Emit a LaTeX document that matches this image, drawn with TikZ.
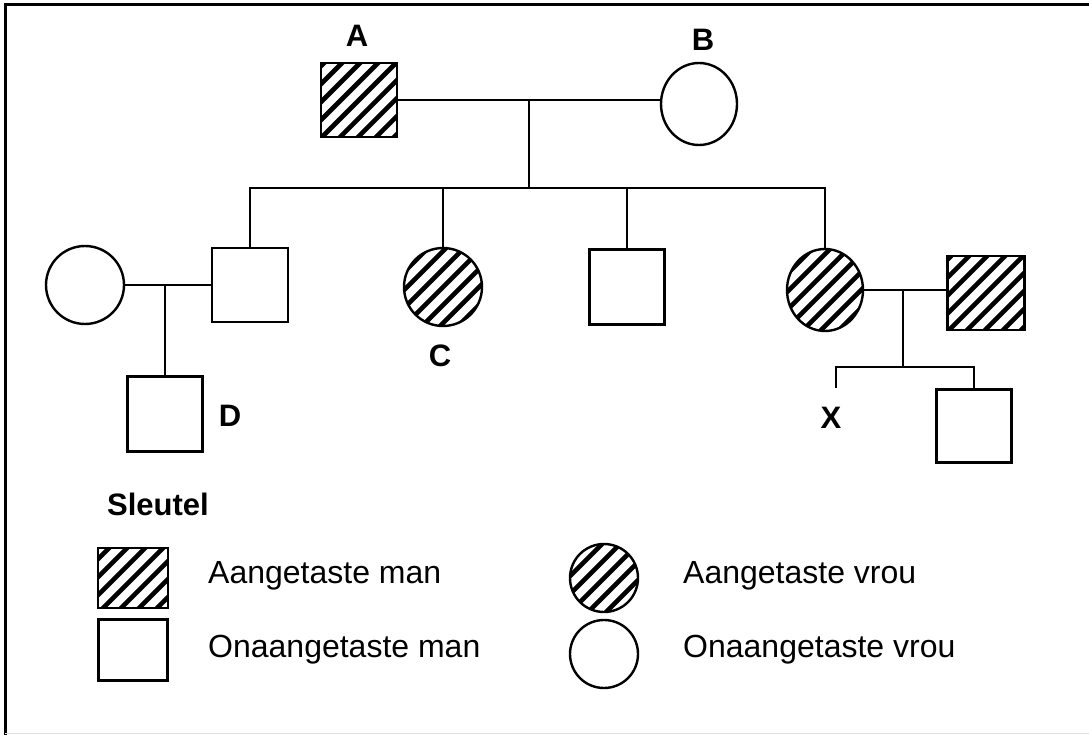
\documentclass[tikz,border=0pt]{standalone}
\usepackage{fontspec}
\setmainfont{Liberation Sans}
\usetikzlibrary{shapes.geometric}
\tikzset{
  x=1pt, y=-1pt,
  hatch/.style={path picture={
    \foreach \i in {-162,-144,...,162}{
      \draw[line width=4.6pt] ([xshift=\i pt]path picture bounding box.center) ++(-70pt,-70pt) -- ++(140pt,140pt);
    }}},
  male/.style={draw, line width=2.4pt, rectangle, inner sep=0pt, minimum width=76pt, minimum height=74pt},
  female/.style={draw, line width=2.4pt, ellipse, inner sep=0pt, minimum width=77pt, minimum height=80pt},
  conn/.style={line width=2pt},
  lbl/.style={font=\fontsize{31}{36}\selectfont\bfseries, anchor=base, inner sep=0pt},
  keytext/.style={font=\fontsize{32}{38}\selectfont, anchor=base west, inner sep=0pt},
}
\begin{document}
\begin{tikzpicture}
\useasboundingbox (0,0) rectangle (1089,735);
% frame
\draw[line width=3pt] (5,735) -- (5,5) -- (1089,5);
\draw[line width=1pt, black!12] (5,733.5) -- (1089,733.5);

% generation I
\node[male, hatch] (A) at (359,100) {};
\node[female, minimum width=76pt, minimum height=82pt] (B) at (699,104) {};
\node[lbl] (lA) at (357,47) {A};
\node[lbl] (lB) at (703,51) {B};
\coordinate (mAB) at (529,100);
\coordinate (sib1) at (529,188);
\draw[conn] (A.east) -- (A.east -| B.west);
\draw[conn] (mAB) -- (sib1);

% generation II
\node[male] (S1) at (250,285) {};
\node[female, minimum width=78pt, minimum height=78pt] (W1) at (85,285) {};
\node[female, hatch, minimum width=78pt, minimum height=78pt] (C) at (443,287) {};
\node[male, minimum width=75pt, minimum height=75pt] (S2) at (627,287) {};
\node[female, hatch, minimum width=76pt, minimum height=82pt] (F2) at (825,290) {};
\node[male, hatch, minimum width=77pt] (H2) at (986,293) {};
\node[lbl] (lC) at (440,366) {C};

\draw[conn] (S1.north) |- (sib1) -| (F2.north);
\draw[conn] (C.north) -- (C.north |- sib1);
\draw[conn] (S2.north) -- (S2.north |- sib1);

% family left
\coordinate (m1) at (165,285);
\draw[conn] (W1.east) -- (S1.west);
\node[male, minimum width=75pt, minimum height=75pt] (D) at (165,414) {};
\draw[conn] (m1) -- (D.north);
\node[lbl] (lD) at (230,426) {D};

% family right
\coordinate (m2) at (903,291);
\coordinate (s2) at (903,367);
\coordinate (X) at (836,388);
\draw[conn] (F2.east) -- (F2.east -| H2.west);
\draw[conn] (m2) -- (s2);
\node[male, minimum width=75pt, minimum height=73pt] (S3) at (974,426) {};
\draw[conn] (X) |- (s2) -| (S3.north);
\node[lbl] (lX) at (831,428) {X};

% key
\node[font=\fontsize{31}{36}\selectfont\bfseries, anchor=base west, inner sep=0pt] (key) at (107,515) {Sleutel};
\node[male, hatch, minimum width=70pt, minimum height=60pt] (KA) at (133,578) {};
\node[male, minimum width=69pt, minimum height=61pt] (KU) at (133,650) {};
\node[female, hatch, minimum width=68pt, minimum height=68pt] (KF) at (604,578) {};
\node[female, minimum width=68pt, minimum height=68pt] (KFU) at (604,654) {};
\node[keytext] (tA) at (208,583) {Aangetaste man};
\node[keytext] (tU) at (208,657) {Onaangetaste man};
\node[keytext] (tF) at (683,583) {Aangetaste vrou};
\node[keytext] (tFU) at (683,657) {Onaangetaste vrou};
\end{tikzpicture}
\end{document}
